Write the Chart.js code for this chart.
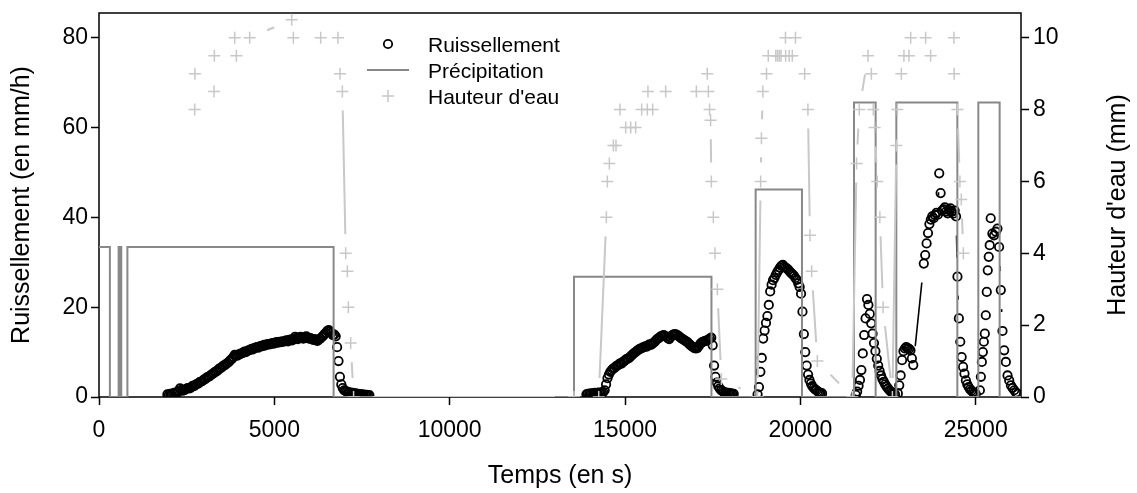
<!DOCTYPE html>
<html>
<head>
<meta charset="utf-8">
<script src="https://cdn.jsdelivr.net/npm/chart.js@4/dist/chart.umd.min.js"></script>
<style>
  body { margin: 0; background: #fff; }
</style>
</head>
<body>
<canvas id="chart" width="1137" height="493"></canvas>
<script>
// tick values
const timeTicks = [0, 5000, 10000, 15000, 20000, 25000];
const runoffTicks = [0, 20, 40, 60, 80];
const depthTicks = [0, 2, 4, 6, 8, 10];

// precipitation (mm/h): each rate holds from its time until the next one
const precipTime = [0, 310, 560, 580, 615, 635, 810, 6690, 13545, 17465, 18725, 20046,
  21530, 22147, 22737, 24477, 25075, 25683, 26292];
const precipRate = [33.4, 0, 33.4, 0, 33.4, 0, 33.4, 0, 26.8, 0, 46.2, 0,
  65.6, 0, 65.6, 0, 65.6, 0, 0];

// water depth (mm)
const depthTime = [2729, 2735, 3280, 3290, 3870, 3918, 4297, 5495, 5543, 6322, 6815, 6873, 6940,
  7035, 7083, 7111, 7177, 7260,
  13545, 14250, 14468, 14496, 14553, 14668, 14742, 14856, 15019, 15162, 15304, 15475, 15637,
  15654, 15789, 16159, 17035, 17345, 17377, 17411, 17440, 17462, 17519, 17566, 17633, 17747,
  18780, 18868, 18890, 18930, 19035, 19085, 19300, 19350, 19400, 19450, 19576, 19580, 19680,
  19771, 19861, 20122, 20216, 20274, 20322, 20485,
  21480, 21603, 21680, 21930, 22025, 22080, 22119, 22192, 22267, 22359, 22625,
  22737, 22765, 22880, 22954, 23097, 23146, 23573, 23715, 24380, 24385, 24477, 24550, 24590, 24648];
const depthValue = [8.0, 9.0, 8.5, 9.5, 10.0, 9.5, 10.0, 10.5, 10.0, 10.0, 10.0, 9.0, 8.5,
  4.0, 3.5, 2.5, 1.5, 0,
  0, 0, 5.0, 6.0, 6.5, 7.0, 7.0, 8.0, 7.5, 7.5, 7.5, 8.0, 8.0,
  8.5, 8.0, 8.5, 8.5, 9.0, 8.5, 8.0, 7.7, 6.0, 5.0, 4.0, 3.0, 0.5,
  0, 6.0, 7.2, 8.5, 9.0, 9.5, 9.5, 9.5, 9.5, 9.5, 10.0, 9.5, 9.5,
  9.5, 10.0, 9.0, 8.0, 4.5, 3.5, 1.0,
  0, 6.5, 8.0, 9.5, 9.0, 8.0, 7.5, 6.0, 5.0, 2.5, 0,
  7.0, 8.0, 9.0, 9.5, 9.5, 10.0, 10.0, 9.5, 10.0, 9.0, 8.0, 6.0, 5.5, 4.0];

// runoff (mm/h), recorded in blocks: start time, time step, values
const runoff1 = [0.6, 0.5, 0.7, 0.6, 0.8, 0.9, 1.0, 0.9, 1.3, 1.9, 1.6, 1.4, 1.5, 1.7, 1.9, 2.0,
  1.9, 2.2, 2.5, 2.4, 2.7, 2.9, 3.0, 3.3, 3.4, 3.6, 3.9, 4.0, 4.3, 4.5, 4.6, 4.9, 5.1, 5.3, 5.6,
  5.7, 6.0, 6.3, 6.4, 6.7, 7.0, 7.1, 7.4, 7.6, 7.9, 8.2, 8.5, 8.9, 9.4, 9.3, 9.2, 9.5, 9.6, 9.7,
  9.9, 10.1, 10.0, 10.3, 10.4, 10.5, 10.7, 10.6, 10.9, 11.0, 11.1, 11.0, 11.3, 11.4, 11.3, 11.6,
  11.5, 11.7, 11.8, 11.7, 11.9, 12.0, 11.9, 12.1, 12.2, 12.1, 12.3, 12.2, 12.4, 12.3, 12.5, 12.6,
  12.4, 12.7, 12.8, 12.6, 12.9, 13.4, 13.1, 12.9, 13.2, 13.4, 13.1, 13.0, 13.3, 13.5, 13.2, 13.0,
  13.1, 12.9, 12.7, 12.9, 12.6, 12.5, 12.8, 13.0, 13.3, 13.6, 14.0, 14.3, 14.7, 14.9, 14.6, 14.3,
  13.8, 13.9, 13.5, 11.1, 8.0, 4.5, 2.8, 2.0, 1.5, 1.3, 1.2, 1.1, 1.0, 0.9, 0.9, 0.8, 0.8, 0.7,
  0.7, 0.6, 0.6, 0.6, 0.5, 0.5, 0.5, 0.4, 0.4];
const runoff2 = [0.6, 0.7, 0.6, 0.8, 0.7, 0.8, 0.9, 0.8, 0.9, 1.0, 0.9, 1.0, 1.1, 1.5, 2.8, 4.2,
  5.0, 5.6, 6.0, 6.3, 6.5, 6.8, 7.0, 7.2, 7.5, 7.4, 7.8, 8.0, 8.3, 8.5, 8.6, 8.9, 9.2, 9.5, 9.8,
  10.0, 10.3, 10.5, 10.7, 10.8, 11.0, 11.1, 11.3, 11.2, 11.5, 11.7, 11.6, 11.9, 12.1, 12.4, 12.8,
  13.0, 13.2, 13.5, 13.6, 13.8, 13.6, 13.4, 13.1, 12.9, 13.3, 13.7, 13.9, 14.0, 13.9, 13.7, 13.5,
  13.2, 13.0, 12.8, 12.6, 12.4, 12.2, 11.9, 11.6, 11.3, 11.1, 10.9, 10.8, 10.9, 11.3, 11.8, 12.1,
  12.3, 12.4, 12.5, 12.6, 12.8, 13.0, 13.2, 11.5, 7.0, 4.5, 3.2, 2.4, 1.9, 1.5, 1.3, 1.1, 1.0,
  0.9, 0.9, 0.8, 0.8, 0.7, 0.7];
const runoff3 = [0.6, 2.2, 5.6, 8.7, 13.0, 14.8, 16.5, 18.0, 20.5, 23.5, 25.0, 26.0, 26.5, 27.2,
  27.8, 28.3, 28.8, 29.2, 29.4, 29.0, 28.8, 28.6, 28.3, 27.9, 27.6, 27.3, 27.0, 26.5, 26.1, 25.3,
  24.5, 23.0, 19.0, 14.0, 10.0, 7.0, 5.0, 3.8, 3.0, 2.4, 2.0, 1.7, 1.5, 1.2, 1.0, 0.9, 0.8];
const runoff4 = [0.5, 1.2, 2.5, 3.8, 6.0, 9.7, 13.8, 17.5, 21.8, 20.5, 18.5, 16.4, 14.1, 12.0,
  10.2, 8.5, 7.0, 5.8, 4.8, 4.0, 3.4, 2.8, 2.3, 1.9, 1.5, 1.2, 1.0, 0.8, 0.6];
const runoff5a = [0.8, 2.6, 4.8, 8.2, 10.2, 10.8, 11.1, 10.9, 10.7, 10.4, 8.6, 7.1];
const runoff5b = [29.7, 31.6, 34.2, 36.5, 38.5, 39.5, 40.2, 39.8, 40.5, 41.0, 40.6, 49.8, 45.4,
  41.5, 41.8, 42.2, 41.3, 40.9, 41.6, 42.0, 41.2, 40.8, 41.5, 40.2, 26.8, 17.5, 12.3, 8.9, 6.7,
  5.2, 3.7, 2.8, 2.2, 1.7, 1.4, 1.1, 0.9, 0.7];
const runoff6a = [1.5, 4.5, 7.8, 10.0, 12.3, 14.1, 18.2, 23.4, 28.2, 31.2, 33.8, 39.8];
const runoff6b = [36.4, 36.0, 36.8, 37.5, 33.4, 23.8, 14.7, 10.4, 7.8, 4.8, 3.7, 2.6, 2.0, 1.5,
  1.0, 0.75];
const runoffBlocks = [runoff1, runoff2, runoff3, runoff4, runoff5a, runoff5b, runoff6a, runoff6b];
const runoffStart = [1950, 13900, 18780, 21580, 22780, 23520, 25120, 25476];
const runoffStep = [40, 40, 40, 40, 40, 40, 28, 48];
const runoffJoin = [false, false, false, false, false, true, false, true];

const FONT = '"Liberation Sans", Arial, Helvetica, sans-serif';
Chart.defaults.font.family = FONT;

function buildRunoff() {
  let pts = [];
  runoffBlocks.forEach((vals, b) => {
    if (b > 0 && !runoffJoin[b])
      pts.push({x: runoffStart[b] - 1, y: null});
    vals.forEach((v, i) => {
      pts.push({x: runoffStart[b] + i * runoffStep[b], y: v});
    });
  });
  return pts;
}

// lines between points with a gap around each point (like type="b")
const gappedLines = {
  id: "gappedLines",
  afterDatasetDraw(chart, args) {
    let ds = chart.data.datasets[args.index];
    if (!ds.gapLine) return;
    let pts = args.meta.data;
    let area = chart.chartArea;
    let ctx = chart.ctx;
    let g = ds.gapLine.gap;
    ctx.save();
    ctx.beginPath();
    ctx.rect(area.left, area.top, area.right - area.left, area.bottom - area.top);
    ctx.clip();
    ctx.strokeStyle = ds.gapLine.color;
    ctx.lineWidth = ds.gapLine.width;
    ctx.beginPath();
    for (let i = 1; i < pts.length; i++) {
      let a = pts[i - 1], b = pts[i];
      if (a.skip || b.skip) continue;
      let dx = b.x - a.x, dy = b.y - a.y;
      let d = Math.hypot(dx, dy);
      if (d <= 2 * g) continue;
      ctx.moveTo(a.x + dx / d * g, a.y + dy / d * g);
      ctx.lineTo(b.x - dx / d * g, b.y - dy / d * g);
    }
    ctx.stroke();
    ctx.restore();
  }
};

const decorations = {
  id: "decorations",
  beforeDatasetsDraw(chart) {
    let a = chart.chartArea;
    let ctx = chart.ctx;
    ctx.save();
    ctx.strokeStyle = "#000";
    ctx.lineWidth = 1.5;
    ctx.strokeRect(a.left, a.top, a.right - a.left, a.bottom - a.top);
    ctx.restore();
  },
  afterDraw(chart) {
    let a = chart.chartArea;
    let ctx = chart.ctx;
    let midY = (a.top + a.bottom) / 2;
    ctx.save();
    ctx.fillStyle = "#000";
    ctx.font = "25px " + FONT;
    ctx.textAlign = "center";
    ctx.textBaseline = "middle";
    ctx.fillText("Temps (en s)", (a.left + a.right) / 2, 476);
    ctx.save();
    ctx.translate(22, midY);
    ctx.rotate(-Math.PI / 2);
    ctx.fillText("Ruissellement (en mm/h)", 0, 0);
    ctx.restore();
    ctx.save();
    ctx.translate(1118, midY);
    ctx.rotate(-Math.PI / 2);
    ctx.fillText("Hauteur d'eau (mm)", 0, 0);
    ctx.restore();

    // legend
    let names = ["Ruissellement", "Précipitation", "Hauteur d'eau"];
    let rows = [44, 70, 96];
    ctx.font = "21px " + FONT;
    ctx.textAlign = "left";
    ctx.textBaseline = "alphabetic";
    names.forEach((n, i) => ctx.fillText(n, 428, rows[i] + 7.5));
    ctx.lineWidth = 1.8;
    ctx.strokeStyle = "#000";
    ctx.beginPath();
    ctx.arc(388, rows[0], 4.2, 0, 2 * Math.PI);
    ctx.stroke();
    ctx.strokeStyle = "#888";
    ctx.lineWidth = 2;
    ctx.beginPath();
    ctx.moveTo(367, rows[1]);
    ctx.lineTo(409, rows[1]);
    ctx.stroke();
    ctx.strokeStyle = "#c8c8c8";
    ctx.lineWidth = 1.5;
    ctx.beginPath();
    ctx.moveTo(382, rows[2]);
    ctx.lineTo(394, rows[2]);
    ctx.moveTo(388, rows[2] - 6);
    ctx.lineTo(388, rows[2] + 6);
    ctx.stroke();
    ctx.restore();
  }
};

function axisGrid() {
  return {drawOnChartArea: false, drawTicks: true, tickLength: 8, tickColor: "#000", tickWidth: 1.5};
}

new Chart("chart", {
  type: "line",
  data: {
    datasets: [
      {
        label: "Hauteur d'eau",
        data: depthTime.map((t, i) => ({x: t, y: depthValue[i]})),
        yAxisID: "y1",
        showLine: false,
        pointStyle: "cross",
        pointRadius: 6,
        pointBorderWidth: 1.5,
        pointBorderColor: "#c8c8c8",
        gapLine: {gap: 19, color: "#c8c8c8", width: 2},
        order: 0
      },
      {
        label: "Précipitation",
        data: precipTime.map((t, i) => ({x: t, y: precipRate[i]})),
        yAxisID: "y",
        stepped: "before",
        borderColor: "#888",
        borderWidth: 2,
        pointRadius: 0,
        order: 1
      },
      {
        label: "Ruissellement",
        data: buildRunoff(),
        yAxisID: "y",
        showLine: false,
        pointStyle: "circle",
        pointRadius: 4.2,
        pointBorderWidth: 1.8,
        pointBorderColor: "#000",
        pointBackgroundColor: "rgba(0,0,0,0)",
        gapLine: {gap: 19, color: "#000", width: 1.6},
        order: 2
      }
    ]
  },
  options: {
    responsive: false,
    animation: false,
    devicePixelRatio: 1,
    layout: {padding: {top: 13, left: 0, right: 0, bottom: 0}},
    plugins: {legend: {display: false}, tooltip: {enabled: false}},
    scales: {
      x: {
        type: "linear",
        min: 0,
        max: 26292,
        border: {display: false},
        grid: axisGrid(),
        ticks: {color: "#000", font: {size: 23}, padding: 12, maxRotation: 0, autoSkip: false,
          callback: v => String(v)},
        afterBuildTicks: s => { s.ticks = timeTicks.map(v => ({value: v})); },
        afterFit: s => { s.height = 96; s.paddingLeft = 0; s.paddingRight = 0; }
      },
      y: {
        position: "left",
        min: 0,
        max: 85.5,
        border: {display: false},
        grid: axisGrid(),
        ticks: {color: "#000", font: {size: 23}, padding: 3, callback: v => String(v)},
        afterBuildTicks: s => { s.ticks = runoffTicks.map(v => ({value: v})); },
        afterFit: s => { s.width = 99; s.paddingTop = 0; s.paddingBottom = 0; }
      },
      y1: {
        position: "right",
        min: 0,
        max: 85.5 / 8,
        border: {display: false},
        grid: axisGrid(),
        ticks: {color: "#000", font: {size: 23}, padding: 4, callback: v => String(v)},
        afterBuildTicks: s => { s.ticks = depthTicks.map(v => ({value: v})); },
        afterFit: s => { s.width = 116; s.paddingTop = 0; s.paddingBottom = 0; }
      }
    }
  },
  plugins: [gappedLines, decorations]
});
</script>
</body>
</html>
